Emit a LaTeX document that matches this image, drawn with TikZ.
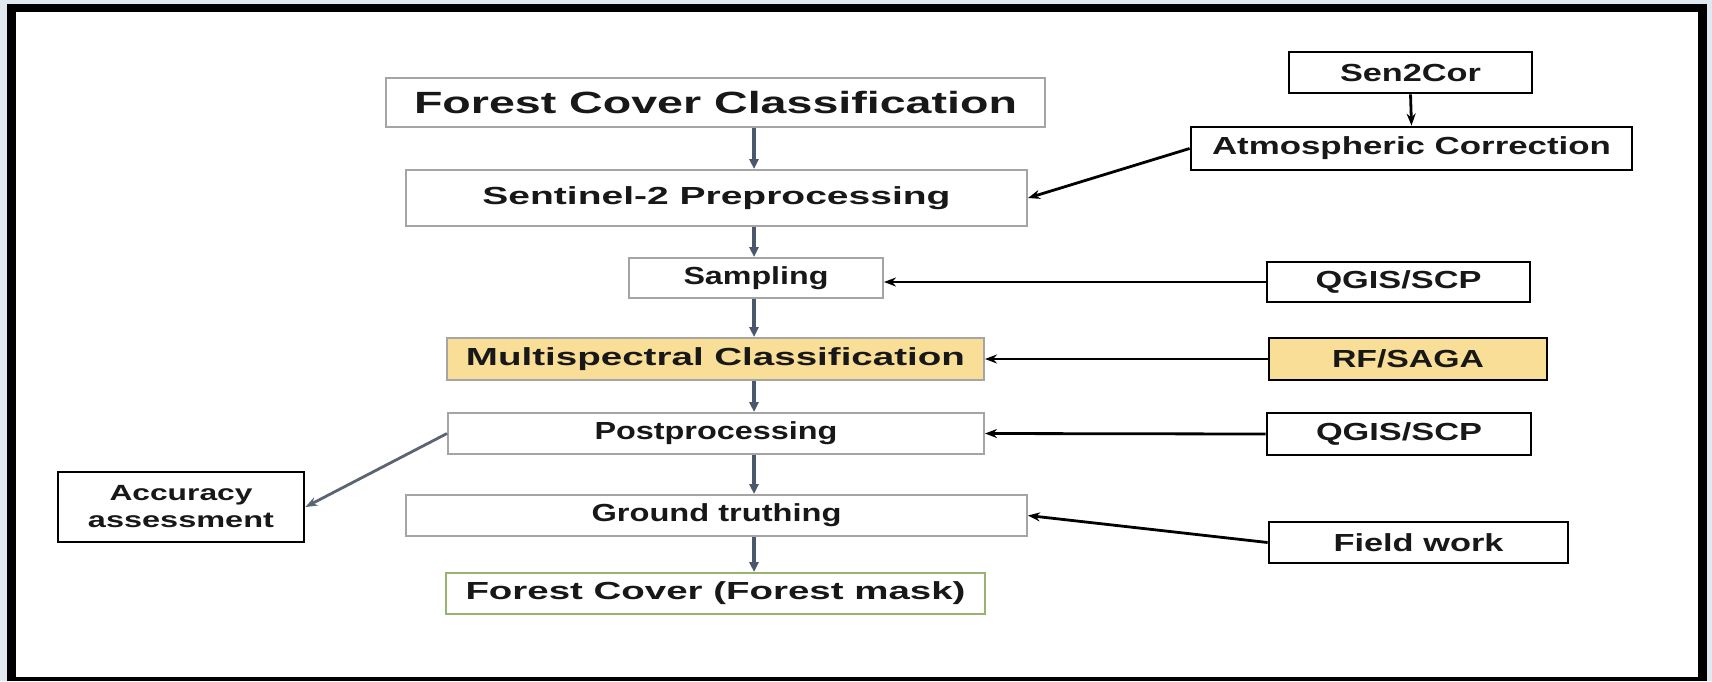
\documentclass[tikz,border=0pt]{standalone}
\usepackage{fontspec}
\setmainfont{Liberation Sans}
\usepackage{graphicx}
\usetikzlibrary{arrows.meta}
\newcommand{\fitw}[2]{\resizebox{#1}{\height}{#2}}
\definecolor{boxgray}{RGB}{165,165,165}
\definecolor{slate}{RGB}{74,88,108}
\definecolor{slatelight}{RGB}{90,100,115}
\definecolor{mfill}{RGB}{248,222,150}
\definecolor{maskgreen}{RGB}{150,180,110}
\definecolor{bgout}{RGB}{224,232,240}
\definecolor{txt}{RGB}{24,24,24}
\tikzset{
  mainbox/.style={draw=boxgray, line width=2pt, fill=white, inner sep=0pt, text=txt,
    font=\fontsize{24.7}{28}\selectfont\bfseries},
  toolbox/.style={draw=black, line width=2.8pt, fill=white, inner sep=0pt, text=txt,
    font=\fontsize{24.7}{28}\selectfont\bfseries},
  flow/.style={draw=slate, line width=3.2pt, -{Triangle[length=10pt,width=9pt]}},
  feed/.style={draw=black, line width=2.8pt, -{Stealth[length=12pt,width=9pt]}},
}
\begin{document}
\begin{tikzpicture}[x=1pt,y=-1pt]
\useasboundingbox (0,0) rectangle (1712,681);
\fill[bgout] (0,0) rectangle (1712,681);
\fill[black] (7,4) rectangle (1707,681);
\fill[white] (16,12) rectangle (1698,677);

% main column
\node[mainbox, minimum width=659pt, minimum height=49pt, font=\fontsize{30.7}{34}\selectfont\bfseries] (fcc) at (715.5,102.5) {\fitw{603pt}{Forest Cover Classification}};
\node[mainbox, minimum width=621pt, minimum height=56pt] (sen) at (716.5,198) {\fitw{468pt}{Sentinel-2 Preprocessing}};
\node[mainbox, minimum width=254pt, minimum height=40pt] (samp) at (756,278) {\fitw{145pt}{Sampling}};
\node[mainbox, fill=mfill, minimum width=537pt, minimum height=42pt] (multi) at (715.5,359) {\fitw{499pt}{Multispectral Classification}};
\node[mainbox, minimum width=536pt, minimum height=41pt] (post) at (716,433.5) {\fitw{243pt}{Postprocessing}};
\node[mainbox, minimum width=621pt, minimum height=41pt] (ground) at (716.5,515.5) {\fitw{250pt}{Ground truthing}};
\node[mainbox, draw=maskgreen, minimum width=539pt, minimum height=41pt] (mask) at (715.5,593.5) {\fitw{500pt}{Forest Cover (Forest mask)}};

% left
\node[toolbox, minimum width=246pt, minimum height=70pt, align=center, font=\fontsize{22}{26}\selectfont\bfseries] (acc) at (181,507) {\fitw{143pt}{Accuracy}\\[1pt]\fitw{186pt}{assessment}};

% right tools
\node[toolbox, minimum width=243pt, minimum height=41pt] (s2c) at (1410.5,72.5) {\fitw{141pt}{Sen2Cor}};
\node[toolbox, minimum width=441pt, minimum height=43pt] (atm) at (1411.5,148.5) {\fitw{399pt}{Atmospheric Correction}};
\node[toolbox, minimum width=263pt, minimum height=40pt] (q1) at (1398.5,282) {\fitw{166pt}{QGIS/SCP}};
\node[toolbox, fill=mfill, minimum width=278pt, minimum height=42pt] (rf) at (1408,359) {\fitw{152pt}{RF/SAGA}};
\node[toolbox, minimum width=264pt, minimum height=42pt] (q2) at (1399,434) {\fitw{166pt}{QGIS/SCP}};
\node[toolbox, minimum width=299pt, minimum height=41pt] (fw) at (1418.5,542.5) {\fitw{170pt}{Field work}};

% vertical flow arrows
\coordinate (ax) at (754,0);
\draw[flow] (fcc.south -| ax) -- (sen.north -| ax);
\draw[flow] (sen.south -| ax) -- (samp.north -| ax);
\draw[flow] (samp.south -| ax) -- (multi.north -| ax);
\draw[flow] (multi.south -| ax) -- (post.north -| ax);
\draw[flow] (post.south -| ax) -- (ground.north -| ax);
\draw[flow] (ground.south -| ax) -- (mask.north -| ax);

% feeding arrows
\draw[feed] (s2c.south) -- (atm.north);
\draw[feed] (atm.west) -- (sen.east);
\draw[feed] (q1.west) -- (q1.west -| samp.east);
\draw[feed] (rf.west) -- (multi.east);
\draw[feed] (q2.west) -- (post.east);
\draw[feed] (fw.west) -- (ground.east);
\draw[feed, draw=slatelight] (post.west) -- (acc.east);
\end{tikzpicture}
\end{document}
